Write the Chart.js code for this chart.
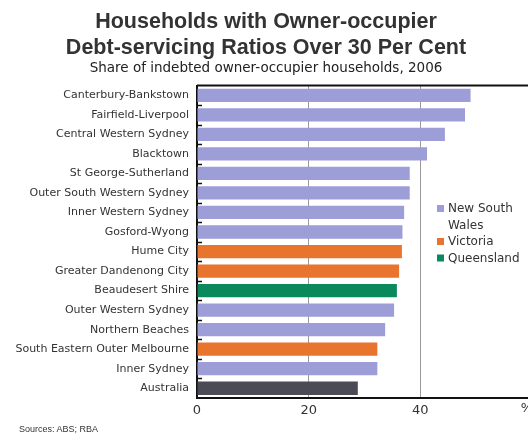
<!DOCTYPE html>
<html>
<head>
<meta charset="utf-8">
<script src="https://cdn.jsdelivr.net/npm/chart.js@4"></script>
<style>
  html, body { margin: 0; padding: 0; background: #fff; overflow: hidden; }
  #wrap { position: relative; width: 540px; height: 436px; }
  #sources { position: absolute; left: 19px; top: 424px; font: 9px "Liberation Sans", Arial, sans-serif; color: #333; }
</style>
</head>
<body>
<div id="wrap">
  <canvas id="chartCanvas" width="540" height="436"></canvas>
  <div id="sources">Sources: ABS; RBA</div>
</div>
<script>
const regions = [
    "Canterbury-Bankstown", "Fairfield-Liverpool", "Central Western Sydney", "Blacktown",
    "St George-Sutherland", "Outer South Western Sydney", "Inner Western Sydney", "Gosford-Wyong",
    "Hume City", "Greater Dandenong City", "Beaudesert Shire", "Outer Western Sydney",
    "Northern Beaches", "South Eastern Outer Melbourne", "Inner Sydney", "Australia"
];
const shares = [49.0, 48.0, 44.4, 41.2, 38.1, 38.1, 37.1, 36.8, 36.7, 36.2, 35.8, 35.3, 33.7, 32.3, 32.3, 28.8];
const states = ["NSW", "NSW", "NSW", "NSW", "NSW", "NSW", "NSW", "NSW",
    "VIC", "VIC", "QLD", "NSW", "NSW", "VIC", "NSW", "AUS"];
const xTicks = [0, 20, 40, 60];

const stateColours = { NSW: "#9d9dd8", VIC: "#e8742e", QLD: "#0a8a5c", AUS: "#4b4b55" };
const legendItems = [
    { lines: ["New South", "Wales"], colour: stateColours.NSW },
    { lines: ["Victoria"], colour: stateColours.VIC },
    { lines: ["Queensland"], colour: stateColours.QLD }
];

const sans = "'Liberation Sans', Arial, sans-serif";
const wide = "'DejaVu Sans', sans-serif";

// short inward tick marks on the category axis, plus the top frame line and legend
const extras = {
    id: "extras",
    afterDraw(chart) {
        const c = chart.ctx, y = chart.scales.y, area = chart.chartArea;
        c.save();
        c.strokeStyle = "#111";
        c.lineWidth = 1.5;
        for (let i = 1; i < regions.length; i++) {
            const py = Math.round((y.getPixelForValue(i - 1) + y.getPixelForValue(i)) / 2) + 0.5;
            c.beginPath();
            c.moveTo(area.left, py);
            c.lineTo(area.left + 5, py);
            c.stroke();
        }
        c.lineWidth = 2;
        c.beginPath();
        c.moveTo(area.left, area.top);
        c.lineTo(area.right, area.top);
        c.stroke();

        c.font = "12px " + wide;
        c.textBaseline = "middle";
        let ly = 209;
        legendItems.forEach(item => {
            c.fillStyle = item.colour;
            c.fillRect(437, ly - 4, 7, 7);
            c.fillStyle = "#333";
            item.lines.forEach(t => {
                c.fillText(t, 448, ly);
                ly += 16.5;
            });
        });
        c.fillStyle = "#333";
        c.font = "13px " + wide;
        c.textAlign = "center";
        c.fillText("%", 527, 409);
        c.restore();
    }
};

const ctx = document.getElementById("chartCanvas").getContext("2d");
new Chart(ctx, {
    type: "bar",
    data: {
        labels: regions,
        datasets: [{
            data: shares,
            backgroundColor: states.map(s => stateColours[s]),
            categoryPercentage: 1,
            barPercentage: 0.68
        }]
    },
    plugins: [extras],
    options: {
        indexAxis: "y",
        responsive: false,
        animation: false,
        layout: { padding: { left: 0, right: 8, top: 0, bottom: 0 } },
        plugins: {
            legend: { display: false },
            tooltip: { enabled: false },
            title: {
                display: true,
                text: ["Households with Owner-occupier", "Debt-servicing Ratios Over 30 Per Cent"],
                color: "#333",
                font: { family: sans, size: 21.5, weight: "bold", lineHeight: 1.17 },
                padding: { top: 10, bottom: 0 }
            },
            subtitle: {
                display: true,
                text: "Share of indebted owner-occupier households, 2006",
                color: "#222",
                font: { family: wide, size: 13.5, lineHeight: 1.2 },
                padding: { top: 0, bottom: 9 }
            }
        },
        scales: {
            x: {
                min: 0,
                max: 60,
                afterBuildTicks: scale => { scale.ticks = xTicks.map(v => ({ value: v })); },
                afterFit: scale => { scale.height = 38; },
                border: { color: "#111", width: 2 },
                grid: { color: ctx => (ctx.tick && ctx.tick.value === 0 ? "transparent" : "#999"), lineWidth: 1, drawTicks: false },
                ticks: {
                    color: "#333",
                    padding: 5,
                    font: { family: wide, size: 13 },
                    callback: v => (v === 60 ? "" : v)
                }
            },
            y: {
                afterFit: scale => { scale.width = 197; },
                border: { color: "#111", width: 2 },
                grid: { display: false },
                ticks: {
                    color: "#333",
                    padding: 0,
                    autoSkip: false,
                    font: { family: wide, size: 11 }
                }
            }
        }
    }
});
</script>
</body>
</html>
